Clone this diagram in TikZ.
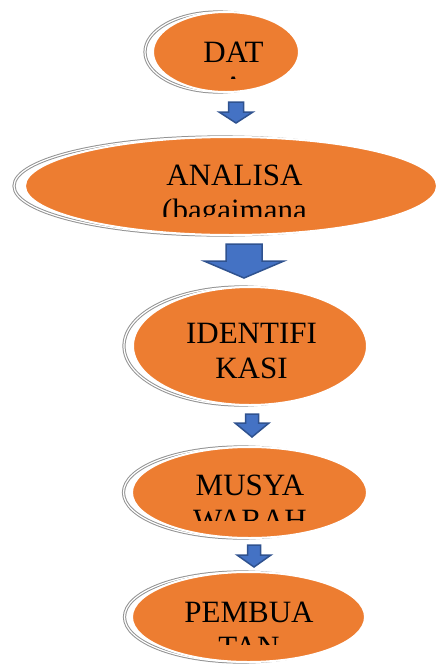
\documentclass[tikz,border=0pt]{standalone}
\usepackage{fontspec}
\setmainfont{Liberation Serif}
\usepackage{xcolor}
\usepackage{tikz}
\usetikzlibrary{shapes,calc}
\definecolor{oranye}{HTML}{ED7D31}
\definecolor{biru}{HTML}{4472C4}
\definecolor{birutua}{HTML}{2F528F}
\tikzstyle{elips}=[ellipse, fill=oranye, draw=white,% orange with a white rim
line width=2pt, inner sep=0pt]
\tikzstyle{bayang}=[ellipse, draw=gray!85, double=white, double distance=1.2pt,% grey ring behind
line width=1pt, inner sep=0pt]
\tikzstyle{teks}=[anchor=base, inner sep=0pt, font=\fontsize{31}{35}\selectfont]
\tikzstyle{panah}=[fill=biru, draw=birutua, line width=1.5pt, line join=miter]
% block arrow: x, top, tip, shaft half, head half, head length
\newcommand{\panahblok}[6]{%
\filldraw[panah] (#1-#4,#2) -- (#1+#4,#2) -- (#1+#4,#3-#6) -- (#1+#5,#3-#6)
  -- (#1,#3) -- (#1-#5,#3-#6) -- (#1-#4,#3-#6) -- cycle;}

\begin{document}
\begin{tikzpicture}[x=1pt,y=-1pt]
\useasboundingbox (0,0) rectangle (436,665);
\clip (0,0) rectangle (436,665);
% rings
\node[bayang, minimum width=146, minimum height=80] (b1) at (218,52) {};
\node[bayang, minimum width=412, minimum height=98] (b2) at (220,186) {};
\node[bayang, minimum width=234, minimum height=118] (b3) at (241,346) {};
\node[bayang, minimum width=235, minimum height=91] (b4) at (241,492.5) {};
\node[bayang, minimum width=233, minimum height=90] (b5) at (241,617) {};
% ellipses
\node[elips, minimum width=146, minimum height=80] (dat) at (226,52) {};
\node[elips, minimum width=412, minimum height=98] (analisa) at (231,186) {};
\node[elips, minimum width=234, minimum height=118] (identifikasi) at (250,346) {};
\node[elips, minimum width=235, minimum height=91] (musyawarah) at (249.5,492.5) {};
\node[elips, minimum width=233, minimum height=90] (pembuatan) at (248.5,617) {};
% texts, cut off at the bottom of their boxes
\begin{scope}
\clip (0,0) rectangle (436,78);
\node[teks] (t1a) at (233.5,62) {DAT};
\node[teks] (t1b) at (233.5,97) {A};
\end{scope}
\begin{scope}
\clip (0,140) rectangle (436,216);
\node[teks] (t2a) at (234.5,185) {ANALISA};
\node[teks] (t2b) at (234.5,220) {(bagaimana};
\end{scope}
\node[teks] (t3a) at (251.5,343) {IDENTIFI};
\node[teks] (t3b) at (251.5,378) {KASI};
\begin{scope}
\clip (0,450) rectangle (436,520);
\node[teks] (t4a) at (250,495) {MUSYA};
\node[teks] (t4b) at (250,530) {WARAH};
\end{scope}
\begin{scope}
\clip (0,575) rectangle (436,644);
\node[teks] (t5a) at (249,622) {PEMBUA};
\node[teks] (t5b) at (249,657) {TAN};
\end{scope}
% arrows
\panahblok{236}{102}{123}{7.5}{17}{11}
\panahblok{244}{244}{278}{18}{40}{17}
\panahblok{252}{414}{437}{6.5}{17}{14}
\panahblok{254}{545}{567}{6.5}{17}{12}
\end{tikzpicture}
\end{document}
